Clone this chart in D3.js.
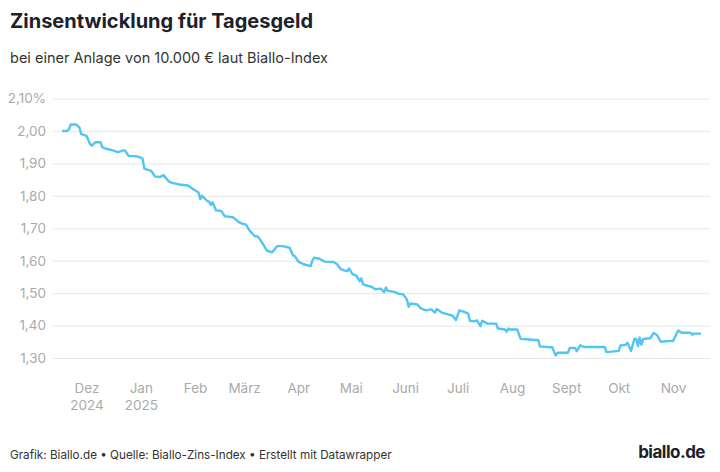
<!DOCTYPE html>
<html>
<head>
<meta charset="utf-8">
<script src="https://cdn.jsdelivr.net/npm/d3@7"></script>
<style>
  body { margin: 0; background: #fff; }
  svg { display: block; }
  text { font-family: Inter, "Noto Sans", sans-serif; }
</style>
</head>
<body>
<svg id="chart" width="720" height="472"></svg>
<script>
// Biallo-Index Tagesgeld
const dates = [
  "2024-11-17","2024-11-20","2024-11-21","2024-11-22","2024-11-25","2024-11-27","2024-11-28",
  "2024-12-01","2024-12-03","2024-12-04","2024-12-06","2024-12-09","2024-12-10","2024-12-12",
  "2024-12-16","2024-12-19","2024-12-22","2024-12-23","2024-12-25","2024-12-29","2024-12-31",
  "2025-01-02","2025-01-03","2025-01-07","2025-01-09","2025-01-12","2025-01-14","2025-01-17",
  "2025-01-19","2025-01-23","2025-01-28","2025-01-31",
  "2025-02-03","2025-02-04","2025-02-05","2025-02-08","2025-02-09","2025-02-10","2025-02-11",
  "2025-02-13","2025-02-16","2025-02-18","2025-02-21","2025-02-23","2025-02-26","2025-02-28",
  "2025-03-02","2025-03-04","2025-03-07","2025-03-09","2025-03-12","2025-03-14","2025-03-17",
  "2025-03-20","2025-03-23","2025-03-27","2025-03-29","2025-03-30",
  "2025-04-01","2025-04-04","2025-04-08","2025-04-09","2025-04-10","2025-04-13","2025-04-16",
  "2025-04-21","2025-04-23","2025-04-25","2025-04-27","2025-04-29","2025-04-30",
  "2025-05-02","2025-05-04","2025-05-06","2025-05-07","2025-05-08","2025-05-11","2025-05-13",
  "2025-05-15","2025-05-18","2025-05-20","2025-05-21","2025-05-22","2025-05-26","2025-05-28",
  "2025-05-31",
  "2025-06-02","2025-06-03","2025-06-04","2025-06-08","2025-06-10","2025-06-13","2025-06-16",
  "2025-06-18","2025-06-19","2025-06-22","2025-06-26","2025-06-28","2025-06-30",
  "2025-07-02","2025-07-04","2025-07-07","2025-07-08","2025-07-11","2025-07-12","2025-07-14",
  "2025-07-15","2025-07-18","2025-07-23","2025-07-24","2025-07-28","2025-07-29","2025-07-30",
  "2025-07-31",
  "2025-08-04","2025-08-06","2025-08-11","2025-08-16","2025-08-17","2025-08-21","2025-08-24",
  "2025-08-26","2025-08-27",
  "2025-09-02","2025-09-03","2025-09-06","2025-09-07","2025-09-09","2025-09-11","2025-09-23",
  "2025-09-24",
  "2025-10-01","2025-10-02","2025-10-05","2025-10-06","2025-10-08","2025-10-10","2025-10-11",
  "2025-10-12","2025-10-13","2025-10-14","2025-10-15","2025-10-19","2025-10-21","2025-10-23",
  "2025-10-25","2025-10-29",
  "2025-11-01","2025-11-04","2025-11-06","2025-11-11","2025-11-12","2025-11-13","2025-11-17"
];
const rates = [
  2.000,2.000,2.005,2.020,2.020,2.010,1.990,
  1.985,1.960,1.955,1.965,1.965,1.950,1.945,
  1.940,1.935,1.940,1.940,1.923,1.922,1.920,
  1.915,1.884,1.877,1.860,1.858,1.864,1.844,
  1.840,1.835,1.832,1.820,
  1.810,1.790,1.800,1.784,1.782,1.772,1.780,
  1.755,1.753,1.737,1.735,1.733,1.719,1.714,
  1.712,1.694,1.676,1.674,1.650,1.631,1.626,
  1.645,1.645,1.640,1.616,1.614,
  1.597,1.589,1.583,1.600,1.609,1.606,1.597,
  1.596,1.590,1.575,1.570,1.568,1.576,
  1.558,1.555,1.537,1.545,1.527,1.522,1.519,
  1.512,1.514,1.503,1.517,1.507,1.504,1.498,
  1.496,
  1.480,1.458,1.468,1.465,1.453,1.447,1.450,
  1.440,1.451,1.440,1.434,1.431,1.417,
  1.447,1.444,1.437,1.415,1.413,1.416,1.398,
  1.415,1.406,1.406,1.391,1.388,1.381,1.391,
  1.388,
  1.388,1.359,1.357,1.355,1.336,1.334,1.333,
  1.308,1.316,
  1.316,1.331,1.331,1.321,1.339,1.334,1.334,
  1.318,
  1.322,1.339,1.341,1.347,1.322,1.359,1.359,
  1.337,1.363,1.341,1.359,1.361,1.377,1.370,
  1.350,1.352,
  1.352,1.385,1.378,1.378,1.372,1.375,1.375
];
const yTicks = [1.3, 1.4, 1.5, 1.6, 1.7, 1.8, 1.9, 2.0, 2.1];
const monthNames = ["Jan","Feb","März","Apr","Mai","Juni","Juli","Aug","Sept","Okt","Nov","Dez"];

const parse = d3.timeParse("%Y-%m-%d");
const data = dates.map((d, i) => ({ date: parse(d), value: rates[i] }));

const svg = d3.select("#chart");

const x = d3.scaleTime()
  .domain(d3.extent(data, d => d.date))
  .range([62, 701]);
const y = d3.scaleLinear()
  .domain([1.3, 2.1])
  .range([358, 98.5]);

const de = d3.formatLocale({ decimal: ",", thousands: ".", grouping: [3], currency: ["", " €"] });
const fmt = de.format(".2f");

// title + subtitle
svg.append("text")
  .attr("x", 10).attr("y", 28)
  .attr("font-size", 20).attr("font-weight", 700)
  .attr("fill", "#1d2129")
  .text("Zinsentwicklung für Tagesgeld");
svg.append("text")
  .attr("x", 10).attr("y", 63)
  .attr("font-size", 14.5)
  .attr("fill", "#333")
  .text("bei einer Anlage von 10.000 € laut Biallo-Index");

// y axis with grid
const yAxis = svg.append("g")
  .attr("transform", "translate(53,0)")
  .call(d3.axisLeft(y)
    .tickValues(yTicks)
    .tickSize(-657)
    .tickPadding(7)
    .tickFormat(d => fmt(d) + (d === 2.1 ? "%" : "")));
yAxis.select(".domain").remove();
yAxis.selectAll(".tick line").attr("stroke", "#e8e8e8");
yAxis.selectAll(".tick text")
  .attr("font-size", 13.5)
  .attr("fill", "#aaaaaa")
  .attr("font-family", "Inter, sans-serif");

// x axis
const months = d3.timeMonth.range(new Date(2024, 11, 1), new Date(2025, 10, 2));
const xAxis = svg.append("g")
  .attr("transform", "translate(0,380)")
  .call(d3.axisBottom(x)
    .tickValues(months)
    .tickSize(0)
    .tickPadding(0)
    .tickFormat(d => monthNames[d.getMonth()]));
xAxis.select(".domain").remove();
xAxis.selectAll(".tick text")
  .attr("font-size", 13.5)
  .attr("fill", "#aaaaaa")
  .attr("font-family", "Inter, sans-serif")
  .attr("dy", "0.95em")
  .each(function(d) {
    if (d.getMonth() === 11 || (d.getMonth() === 0 && d.getFullYear() === 2025)) {
      d3.select(this).append("tspan")
        .attr("x", 0).attr("dy", "1.3em")
        .text(d.getFullYear());
    }
  });

// line
const line = d3.line()
  .x(d => x(d.date))
  .y(d => y(d.value));
svg.append("path")
  .datum(data)
  .attr("fill", "none")
  .attr("stroke", "#52c5f4")
  .attr("stroke-width", 2.4)
  .attr("stroke-linejoin", "round")
  .attr("d", line);

// footer
svg.append("text")
  .attr("x", 10).attr("y", 459)
  .attr("font-size", 11.7)
  .attr("font-family", "Roboto, sans-serif")
  .attr("fill", "#333")
  .text("Grafik: Biallo.de • Quelle: Biallo-Zins-Index • Erstellt mit Datawrapper");
svg.append("text")
  .attr("x", 705).attr("y", 458)
  .attr("text-anchor", "end")
  .attr("font-size", 17).attr("font-weight", 700)
  .attr("letter-spacing", -0.5)
  .attr("fill", "#1d2129")
  .text("biallo.de");
</script>
</body>
</html>
